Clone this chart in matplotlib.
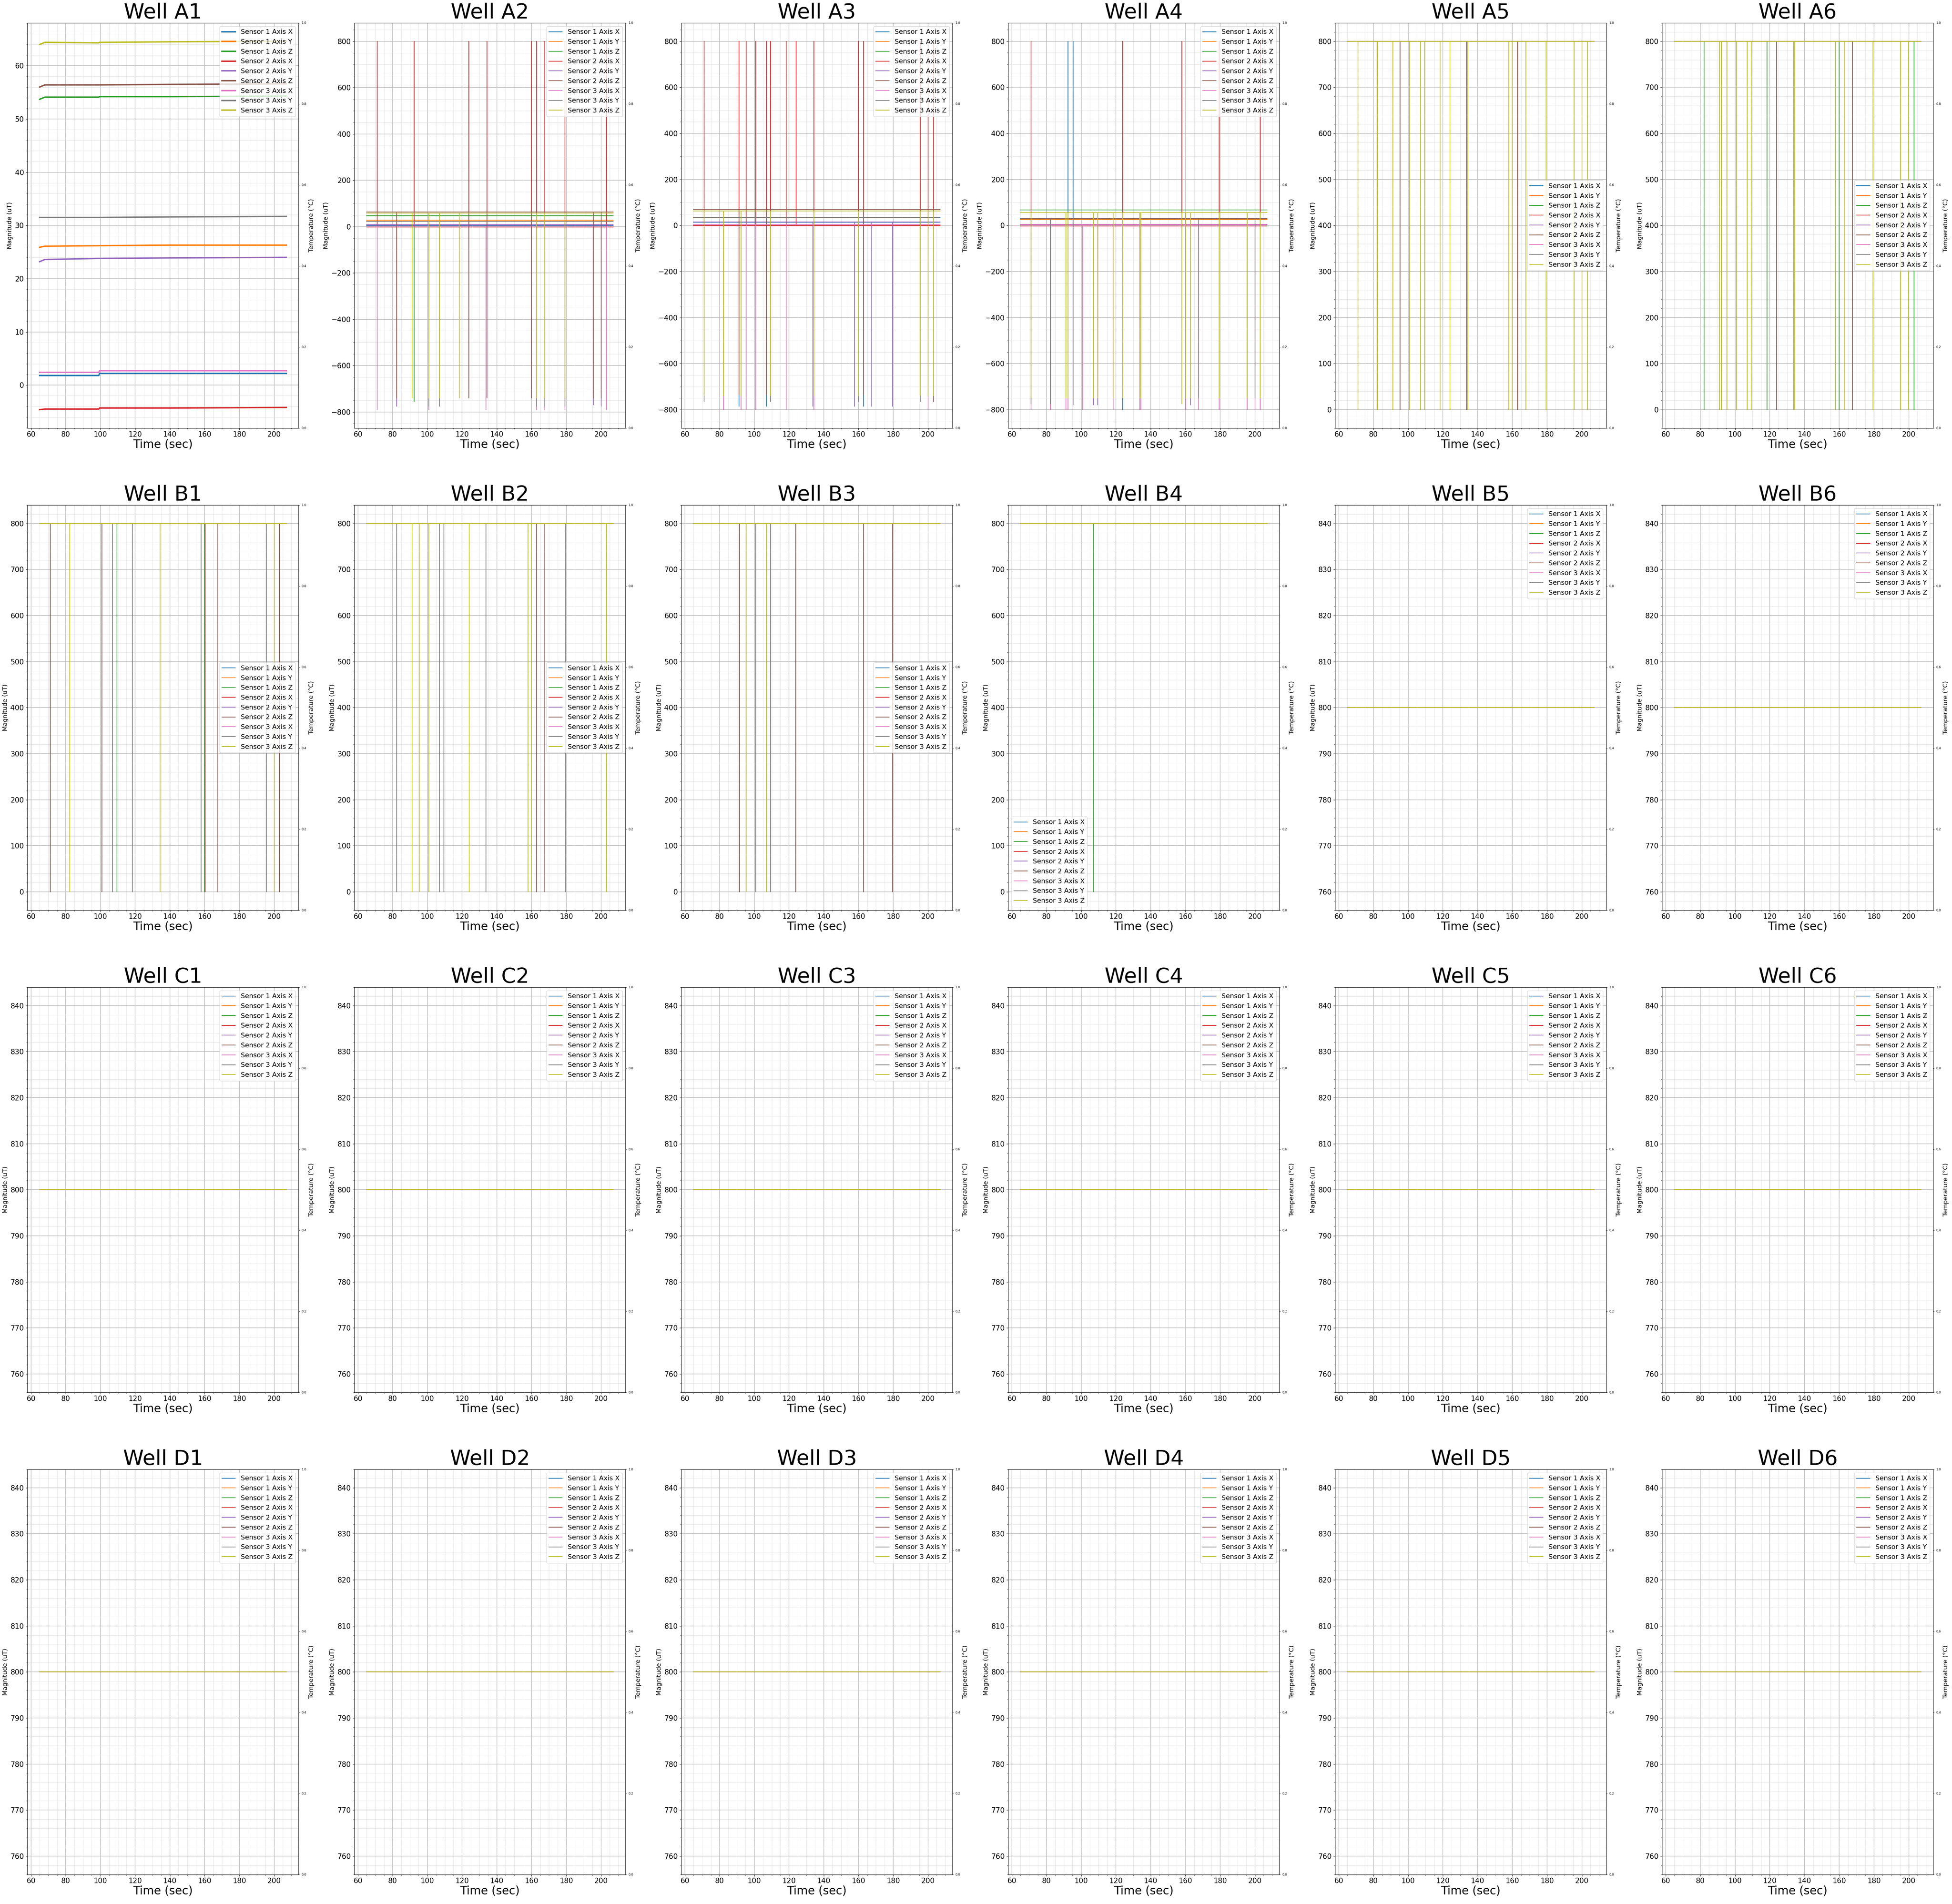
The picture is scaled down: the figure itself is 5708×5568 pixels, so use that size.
import matplotlib
matplotlib.use("Agg")
import matplotlib.pyplot as plt

# channel names, in plotting order (default colour cycle C0..C8)
CHANNELS = [
    "Sensor 1 Axis X", "Sensor 1 Axis Y", "Sensor 1 Axis Z",
    "Sensor 2 Axis X", "Sensor 2 Axis Y", "Sensor 2 Axis Z",
    "Sensor 3 Axis X", "Sensor 3 Axis Y", "Sensor 3 Axis Z",
]
ROWS = ["A", "B", "C", "D"]
COLS = [1, 2, 3, 4, 5, 6]

T_START = 65.0
T_END = 207.0
SATURATED = 800.0   # level of the saturated / idle wells
DROP_LEVEL = 0.0

# Well A1: slow drift of real readings (time, value) per channel
A1_TIMES = [65, 68, 99, 99.5, 140, 207]
A1_S1X = [1.8, 1.8, 1.8, 2.2, 2.2, 2.2]
A1_S1Y = [25.9, 26.1, 26.2, 26.2, 26.3, 26.3]
A1_S1Z = [53.7, 54.1, 54.1, 54.2, 54.2, 54.3]
A1_S2X = [-4.6, -4.5, -4.5, -4.3, -4.3, -4.2]
A1_S2Y = [23.2, 23.6, 23.8, 23.8, 23.9, 24.0]
A1_S2Z = [56.0, 56.4, 56.4, 56.4, 56.5, 56.6]
A1_S3X = [2.4, 2.4, 2.4, 2.7, 2.7, 2.7]
A1_S3Y = [31.5, 31.5, 31.5, 31.5, 31.6, 31.7]
A1_S3Z = [64.0, 64.4, 64.3, 64.4, 64.5, 64.6]

# Wells A2-A4: baseline per channel and spikes (time, channel index, value)
A2_BASE = [5, 27, 46, -2, 9, 63, 3, 22, 58]
A2_SPIKES = [
    (71.2, 3, 800), (71.2, 6, -790),
    (82.3, 4, -775), (82.3, 5, -740),
    (91.1, 8, -740),
    (92.4, 3, 800), (92.4, 2, -755),
    (100.9, 6, -790), (100.9, 7, -775), (100.9, 8, -740),
    (107.0, 7, -775), (107.0, 8, -740),
    (118.3, 8, -740),
    (123.9, 3, 800), (123.9, 5, -740),
    (133.7, 6, -790),
    (134.4, 3, 800), (134.4, 5, -740),
    (160.0, 3, 800), (160.0, 5, -740),
    (162.8, 3, 800), (162.8, 6, -790), (162.8, 7, -775), (162.8, 8, -740),
    (167.5, 3, 800), (167.5, 6, -790), (167.5, 7, -775), (167.5, 8, -740),
    (179.3, 3, 800), (179.3, 6, -790), (179.3, 7, -775), (179.3, 8, -740),
    (195.5, 4, -770), (195.5, 5, -740),
    (200.0, 4, -775), (200.0, 5, -740),
    (203.1, 3, 800), (203.1, 6, -790),
]

A3_BASE = [14, 33, 63, -1, 15, 69, 3, 35, 63]
A3_SPIKES = [
    (71.2, 3, 800), (71.2, 7, -765), (71.2, 8, -740),
    (82.3, 6, -800), (82.3, 8, -740),
    (91.2, 3, 800), (91.2, 0, -785), (91.2, 5, -735),
    (92.4, 6, -800), (92.4, 8, -740),
    (95.4, 3, 800), (95.4, 6, -800),
    (100.8, 3, 800), (100.8, 6, -800),
    (107.0, 3, 800), (107.0, 0, -785), (107.0, 5, -735),
    (109.4, 3, 800), (109.4, 7, -765), (109.4, 8, -740),
    (118.4, 3, 800), (118.4, 6, -800),
    (124.0, 3, 800),
    (133.8, 4, -785),
    (134.4, 3, 800), (134.4, 6, -800), (134.4, 8, -740),
    (157.8, 4, -785),
    (160.0, 3, 800), (160.0, 7, -765), (160.0, 8, -740),
    (162.9, 3, 800), (162.9, 0, -785), (162.9, 5, -735),
    (167.6, 4, -785),
    (179.5, 4, -785),
    (195.5, 3, 800), (195.5, 7, -765), (195.5, 8, -740),
    (200.0, 3, 800), (200.0, 6, -800), (200.0, 8, -740),
    (203.2, 3, 800), (203.2, 5, -765), (203.2, 8, -740),
]

A4_BASE = [3, 25, 67, -3, 5, 30, 4, 29, 55]
A4_SPIKES = [
    (71.2, 3, 800), (71.2, 6, -800), (71.2, 7, -775), (71.2, 8, -750),
    (82.3, 6, -800), (82.3, 7, -775),
    (91.2, 6, -800), (91.2, 8, -750),
    (92.3, 0, 800), (92.3, 6, -800), (92.3, 8, -750),
    (95.4, 0, 800), (95.4, 7, -780),
    (100.9, 6, -800),
    (107.1, 4, -780), (107.1, 8, -750),
    (109.5, 4, -780), (109.5, 8, -750),
    (118.4, 6, -800), (118.4, 8, -750),
    (123.9, 3, 800), (123.9, 0, -800), (123.9, 8, -750),
    (133.8, 6, -800), (133.8, 8, -750),
    (134.4, 6, -800), (134.4, 8, -750),
    (158.0, 3, 800), (158.0, 8, -775),
    (160.1, 6, -800), (160.1, 8, -750),
    (162.8, 4, -780), (162.8, 8, -750),
    (167.6, 6, -800), (167.6, 7, -750),
    (179.4, 3, 800), (179.4, 6, -800), (179.4, 8, -750),
    (195.5, 6, -800), (195.5, 8, -750),
    (200.0, 6, -800), (200.0, 7, -750),
    (203.1, 3, 800), (203.1, 6, -800), (203.1, 8, -750),
]

# Saturated wells: every channel sits at 800, drops (time, channel index) to 0
A5_DROPS = [(71.2, 8), (82.1, 5), (82.3, 8), (91.2, 8), (95.3, 5), (100.9, 8),
            (107.1, 8), (109.5, 8), (118.4, 8), (124.0, 8), (133.8, 5), (134.4, 8),
            (157.9, 8), (160.0, 8), (163.0, 5), (167.7, 8), (179.5, 8), (195.5, 8),
            (200.0, 8), (203.2, 8)]
A6_DROPS = [(82.2, 2), (91.1, 8), (92.2, 8), (95.4, 8), (100.9, 8), (107.0, 8),
            (109.4, 8), (118.4, 2), (123.9, 5), (133.7, 8), (134.4, 8), (157.8, 8),
            (160.0, 2), (162.8, 8), (167.5, 5), (179.4, 8), (195.4, 8), (199.9, 8),
            (203.1, 2)]
B1_DROPS = [(71.2, 5), (82.3, 8), (100.9, 5), (107.0, 7), (109.5, 2), (118.4, 7),
            (134.4, 8), (158.0, 7), (160.0, 2), (160.3, 5), (167.5, 5), (195.5, 7),
            (200.0, 8), (203.1, 5)]
B2_DROPS = [(82.3, 7), (91.1, 8), (95.4, 8), (100.9, 8), (107.0, 7), (109.5, 7),
            (124.0, 8), (133.8, 7), (158.0, 8), (160.0, 8), (162.9, 5), (167.5, 5),
            (179.5, 7), (203.1, 8)]
B3_DROPS = [(91.3, 5), (95.4, 8), (100.9, 7), (107.0, 8), (109.4, 7), (123.9, 5),
            (162.9, 5), (179.5, 5)]
B4_DROPS = [(107.0, 2)]

LEGEND_LOC = {"A5": "center right", "A6": "center right", "B1": "center right",
              "B2": "center right", "B3": "center right", "B4": "lower left"}


def spike_series(base, events):
    # each event is a single sample: base -> value -> base at the same time
    times = sorted(set(e[0] for e in events))
    series = []
    for ch in range(len(CHANNELS)):
        t_out = [T_START]
        v_out = [base[ch]]
        for t in times:
            vals = [e[2] for e in events if e[0] == t and e[1] == ch]
            peak = vals[0] if vals else base[ch]
            t_out += [t, t, t]
            v_out += [base[ch], peak, base[ch]]
        t_out.append(T_END)
        v_out.append(base[ch])
        series.append((t_out, v_out))
    return series


def drop_series(drops):
    events = [(t, ch, DROP_LEVEL) for t, ch in drops]
    return spike_series([SATURATED] * len(CHANNELS), events)


def well_series(name):
    if name == "A1":
        traces = [A1_S1X, A1_S1Y, A1_S1Z, A1_S2X, A1_S2Y, A1_S2Z, A1_S3X, A1_S3Y, A1_S3Z]
        return [(A1_TIMES, tr) for tr in traces]
    if name == "A2":
        return spike_series(A2_BASE, A2_SPIKES)
    if name == "A3":
        return spike_series(A3_BASE, A3_SPIKES)
    if name == "A4":
        return spike_series(A4_BASE, A4_SPIKES)
    drops = {"A5": A5_DROPS, "A6": A6_DROPS, "B1": B1_DROPS, "B2": B2_DROPS,
             "B3": B3_DROPS, "B4": B4_DROPS}.get(name, [])
    return drop_series(drops)


fig, axes = plt.subplots(len(ROWS), len(COLS), figsize=(57.08, 55.68), dpi=100)
fig.subplots_adjust(left=0.014, right=0.9904, top=0.988, bottom=0.0155,
                    wspace=0.205, hspace=0.19)

for r, row in enumerate(ROWS):
    for c, col in enumerate(COLS):
        name = f"{row}{col}"
        ax = axes[r, c]
        lw = 3 if name == "A1" else 1.5
        for ch, (t, v) in enumerate(well_series(name)):
            ax.plot(t, v, color=f"C{ch}", linewidth=lw, label=CHANNELS[ch])

        ax.set_title(f"Well {name}", fontsize=44)
        ax.set_xlabel("Time (sec)", fontsize=24, labelpad=2)
        ax.set_ylabel("Magnitude (uT)", fontsize=13)
        ax.tick_params(labelsize=15)
        ax.minorticks_on()
        ax.grid(which="major", color="#c0c0c0", linewidth=1.3)
        ax.grid(which="minor", color="#dcdcdc", linewidth=0.6)
        ax.legend(loc=LEGEND_LOC.get(name, "upper right"), fontsize=14)

        ax2 = ax.twinx()
        ax2.set_ylabel("Temperature (°C)", fontsize=13)
        ax2.tick_params(labelsize=6.5, length=2.5, width=0.6)

fig.savefig("out.png", dpi=100)
